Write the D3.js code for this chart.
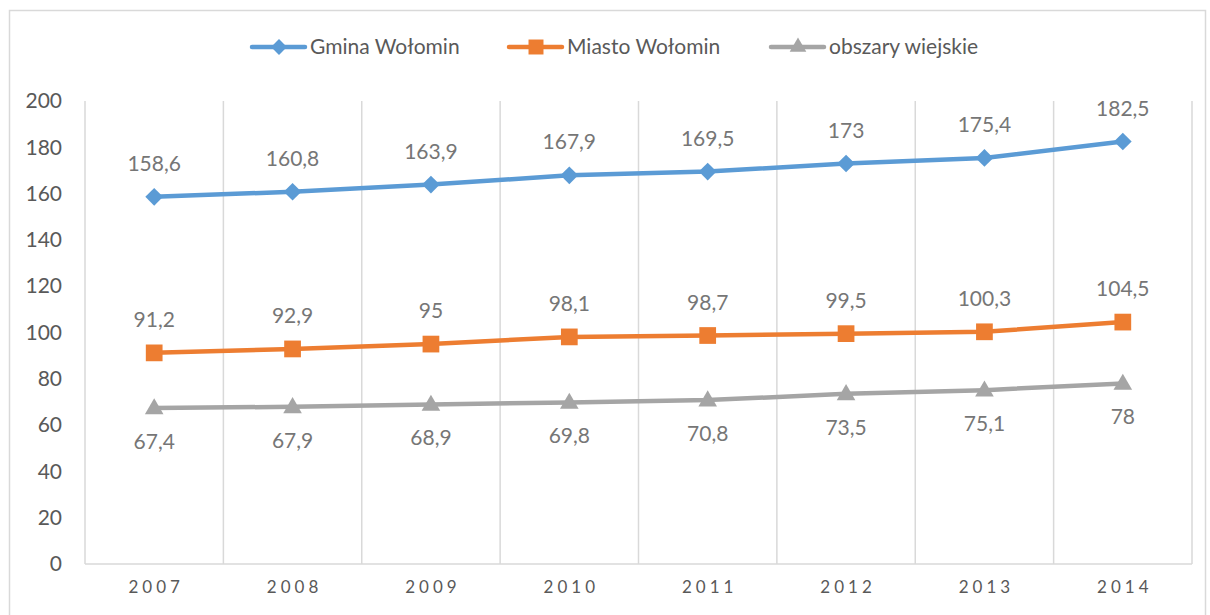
<!DOCTYPE html>
<html>
<head>
<meta charset="utf-8">
<script src="https://cdn.jsdelivr.net/npm/d3@7"></script>
<style>
  body { margin: 0; background: #fff; }
  text { font-family: Lato, "Open Sans", sans-serif; }
</style>
</head>
<body>
<div id="chart"></div>
<script>
// Data
const years = ["2007", "2008", "2009", "2010", "2011", "2012", "2013", "2014"];
const gmina = [158.6, 160.8, 163.9, 167.9, 169.5, 173, 175.4, 182.5];
const miasto = [91.2, 92.9, 95, 98.1, 98.7, 99.5, 100.3, 104.5];
const obszary = [67.4, 67.9, 68.9, 69.8, 70.8, 73.5, 75.1, 78];
const yTicks = [0, 20, 40, 60, 80, 100, 120, 140, 160, 180, 200];
const seriesNames = ["Gmina Wołomin", "Miasto Wołomin", "obszary wiejskie"];

const width = 1210;
const height = 615;
const margin = { left: 85, right: 18, top: 101, bottom: 51 };

const series = [
    { name: seriesNames[0], values: gmina, color: "#5b9bd5", symbol: "diamond", labelPos: "above" },
    { name: seriesNames[1], values: miasto, color: "#ed7d31", symbol: "square", labelPos: "above" },
    { name: seriesNames[2], values: obszary, color: "#a5a5a5", symbol: "triangle", labelPos: "below" }
];

const svg = d3.select("#chart")
    .append("svg")
    .attr("width", width)
    .attr("height", height);

// Outer chart border
svg.append("rect")
    .attr("x", 9.5)
    .attr("y", 10.5)
    .attr("width", 1196)
    .attr("height", 640)
    .attr("fill", "#fff")
    .attr("stroke", "#d9d9d9")
    .attr("stroke-width", 1.5);

const x = d3.scaleBand()
    .domain(years)
    .range([margin.left, width - margin.right]);

const y = d3.scaleLinear()
    .domain([0, 200])
    .range([height - margin.bottom, margin.top]);

// Vertical gridlines at category boundaries
const bounds = years.map(d => x(d)).concat([x.range()[1]]);
svg.selectAll(".vgrid")
    .data(bounds)
    .enter()
    .append("line")
    .attr("class", "vgrid")
    .attr("x1", d => d)
    .attr("x2", d => d)
    .attr("y1", y(200))
    .attr("y2", y(0))
    .attr("stroke", "#d9d9d9")
    .attr("stroke-width", 1.5);

// Bottom axis line
svg.append("line")
    .attr("x1", x.range()[0])
    .attr("x2", x.range()[1])
    .attr("y1", y(0))
    .attr("y2", y(0))
    .attr("stroke", "#d9d9d9")
    .attr("stroke-width", 1.5);

// Y axis labels
const yAxis = svg.append("g")
    .attr("transform", `translate(${margin.left - 23},0)`)
    .call(d3.axisLeft(y).tickValues(yTicks).tickSize(0).tickPadding(0));
yAxis.select(".domain").remove();
yAxis.selectAll("text")
    .attr("font-family", "Lato, sans-serif")
    .attr("font-size", 21)
    .attr("fill", "#595959");

// X axis labels
const xAxis = svg.append("g")
    .attr("transform", `translate(0,${y(0) + 17})`)
    .call(d3.axisBottom(x).tickSize(0).tickPadding(0));
xAxis.select(".domain").remove();
xAxis.selectAll("text")
    .attr("font-family", "Lato, sans-serif")
    .attr("font-size", 17)
    .attr("letter-spacing", "4px")
    .attr("dx", "2px")
    .attr("fill", "#595959");

const cx = d => x(d) + x.bandwidth() / 2;

const symbolType = {
    diamond: d3.symbolDiamond2,
    square: d3.symbolSquare,
    triangle: d3.symbolTriangle
};
const symbolSize = { diamond: 200, square: 280, triangle: 150 };

const line = d3.line()
    .x((d, i) => cx(years[i]))
    .y(d => y(d));

series.forEach(s => {
    svg.append("path")
        .datum(s.values)
        .attr("d", line)
        .attr("fill", "none")
        .attr("stroke", s.color)
        .attr("stroke-width", 4.5)
        .attr("stroke-linejoin", "round")
        .attr("stroke-linecap", "round");

    svg.selectAll(".m-" + s.symbol)
        .data(s.values)
        .enter()
        .append("path")
        .attr("class", "m-" + s.symbol)
        .attr("d", d3.symbol().type(symbolType[s.symbol]).size(symbolSize[s.symbol]))
        .attr("transform", (d, i) => `translate(${cx(years[i])},${y(d) + (s.symbol === "triangle" ? 1 : 0)})`)
        .attr("fill", s.color);

    // Data labels
    svg.selectAll(".lab-" + s.symbol)
        .data(s.values)
        .enter()
        .append("text")
        .attr("class", "lab-" + s.symbol)
        .attr("x", (d, i) => cx(years[i]))
        .attr("y", d => s.labelPos === "above" ? y(d) - 26 : y(d) + 41)
        .attr("text-anchor", "middle")
        .attr("font-size", 21)
        .attr("fill", "#767676")
        .text(d => String(d).replace(".", ","));
});

// Legend
const legendItems = [
    { s: series[0], x: 252 },
    { s: series[1], x: 509 },
    { s: series[2], x: 771 }
];
const legend = svg.selectAll(".legend")
    .data(legendItems)
    .enter()
    .append("g")
    .attr("class", "legend")
    .attr("transform", d => `translate(${d.x},47)`);

legend.append("line")
    .attr("x1", 0)
    .attr("x2", 53)
    .attr("stroke", d => d.s.color)
    .attr("stroke-width", 4.5)
    .attr("stroke-linecap", "round");

legend.append("path")
    .attr("transform", "translate(27,0)")
    .attr("d", d => d3.symbol().type(symbolType[d.s.symbol]).size(symbolSize[d.s.symbol] * 0.8)())
    .attr("fill", d => d.s.color);

legend.append("text")
    .attr("x", 58)
    .attr("dy", "0.35em")
    .attr("font-size", 21)
    .attr("fill", "#595959")
    .text(d => d.s.name);
</script>
</body>
</html>
